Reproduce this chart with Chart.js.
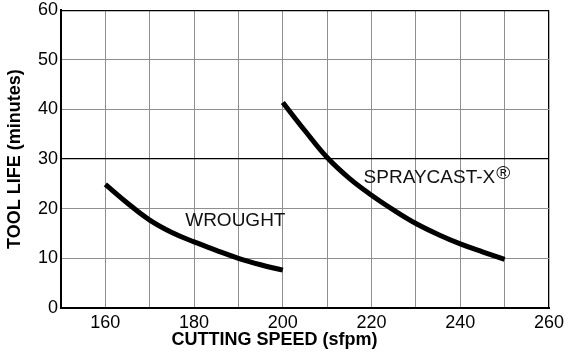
<!DOCTYPE html>
<html>
<head>
<meta charset="utf-8">
<script src="https://cdn.jsdelivr.net/npm/chart.js@4/dist/chart.umd.min.js"></script>
<style>
  html, body { margin: 0; padding: 0; background: #fff; }
  #wrap { width: 569px; height: 356px; }
</style>
</head>
<body>
<div id="wrap"><canvas id="c" width="569" height="356"></canvas></div>
<script>
// ---- data ----
const wroughtSpeed = [160, 165, 170, 175, 180, 185, 190, 195, 200];
const wroughtLife  = [24.9, 21.1, 17.7, 15.2, 13.3, 11.6, 10.0, 8.7, 7.6];
const spraySpeed   = [200, 205, 210, 215, 220, 225, 230, 235, 240, 245, 250];
const sprayLife    = [41.4, 35.7, 30.3, 26.1, 22.7, 19.7, 17.0, 14.8, 12.9, 11.3, 9.8];
const seriesNames  = ['WROUGHT', 'SPRAYCAST-X'];
const xTickLabels  = ['160', '180', '200', '220', '240', '260'];
const yTickLabels  = ['0', '10', '20', '30', '40', '50', '60'];
const xTitle = 'CUTTING SPEED (sfpm)';
const yTitle = 'TOOL LIFE (minutes)';
// label anchors (data coordinates)
const wroughtLabelAt = { x: 178, y: 16.5 };
const sprayLabelAt   = { x: 218.2, y: 25.2 };

const FONT = "'Liberation Sans', Arial, Helvetica, sans-serif";

const toPoints = (xs, ys) => xs.map((x, i) => ({ x: x, y: ys[i] }));

const curveLabels = {
  id: 'curveLabels',
  afterDatasetsDraw(chart) {
    const { ctx, scales: { x, y } } = chart;
    ctx.save();
    ctx.fillStyle = '#111';
    ctx.textBaseline = 'alphabetic';
    ctx.textAlign = 'left';
    ctx.font = "19px " + FONT;
    ctx.fillText(seriesNames[0], x.getPixelForValue(wroughtLabelAt.x), y.getPixelForValue(wroughtLabelAt.y));
    const sx = x.getPixelForValue(sprayLabelAt.x);
    const sy = y.getPixelForValue(sprayLabelAt.y);
    ctx.fillText(seriesNames[1], sx, sy);
    const w = ctx.measureText(seriesNames[1]).width;
    ctx.font = "19px " + FONT;
    ctx.fillText('\u00AE', sx + w + 1, sy - 4);
    ctx.restore();
  }
};

const darkAt = v => (v === 30 || v === 60 || v === 260);

new Chart(document.getElementById('c'), {
  type: 'line',
  data: {
    datasets: [
      { label: seriesNames[0], data: toPoints(wroughtSpeed, wroughtLife) },
      { label: seriesNames[1], data: toPoints(spraySpeed, sprayLife) }
    ]
  },
  options: {
    responsive: false,
    animation: false,
    devicePixelRatio: 1,
    layout: { padding: { top: 0, right: 20, left: 0, bottom: 0 } },
    elements: {
      line: { borderColor: '#000', borderWidth: 5, tension: 0.4, fill: false, borderCapStyle: 'butt' },
      point: { radius: 0, hoverRadius: 0 }
    },
    plugins: {
      legend: { display: false },
      tooltip: { enabled: false },
      title: {
        display: true,
        position: 'bottom',
        text: xTitle,
        color: '#000',
        font: { family: FONT, size: 18, weight: 'bold' },
        padding: { top: 0, bottom: 5 }
      }
    },
    scales: {
      x: {
        type: 'linear',
        min: 150,
        max: 260,
        afterFit: s => { s.height = 21.5; },
        ticks: {
          stepSize: 10,
          autoSkip: false,
          maxRotation: 0,
          padding: 4,
          color: '#000',
          font: { family: FONT, size: 18 },
          callback: v => (xTickLabels.includes(String(v)) ? String(v) : '')
        },
        grid: {
          drawTicks: false,
          color: c => (c.tick && darkAt(c.tick.value) ? '#000' : '#8f8f8f'),
          lineWidth: c => (c.tick && darkAt(c.tick.value) ? 1.3 : 1)
        },
        border: { color: '#000', width: 2 }
      },
      y: {
        min: 0,
        max: 60,
        afterFit: s => { s.width = 61; },
        ticks: {
          stepSize: 10,
          padding: 3,
          color: '#000',
          font: { family: FONT, size: 18, lineHeight: 0.8 },
          callback: v => (yTickLabels.includes(String(v)) ? String(v) : '')
        },
        grid: {
          drawTicks: false,
          color: c => (c.tick && darkAt(c.tick.value) ? '#000' : '#8f8f8f'),
          lineWidth: c => (c.tick && darkAt(c.tick.value) ? 1.3 : 1)
        },
        border: { color: '#000', width: 2 },
        title: {
          display: true,
          text: yTitle,
          color: '#000',
          font: { family: FONT, size: 18, weight: 'bold' },
          padding: { top: 4, bottom: 0 }
        }
      }
    }
  },
  plugins: [curveLabels]
});
</script>
</body>
</html>
